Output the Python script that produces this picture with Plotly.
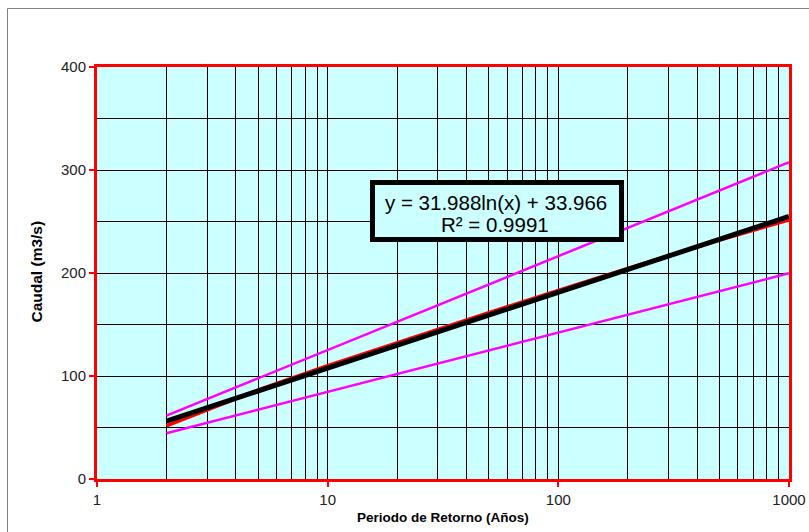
import plotly.graph_objects as go
import numpy as np

# Data
periodos = [2, 5, 10, 25, 50, 100, 200, 500, 1000]
caudal = [51.5, 86.5, 110.0, 139.5, 161.5, 183.0, 204.5, 232.0, 251.5]
limite_sup = [61.5, 97.8, 125.2, 161.5, 188.9, 216.3, 243.7, 280.0, 307.5]
limite_inf = [44.4, 67.3, 84.6, 107.5, 124.8, 142.1, 159.5, 182.4, 199.7]
pendiente = 31.988
intercepto = 33.966
r2 = 0.9991
tendencia = [pendiente * np.log(t) + intercepto for t in periodos]

x_ticks = [1, 10, 100, 1000]
y_ticks = [0, 100, 200, 300, 400]

FONT = "Liberation Sans, Arial, sans-serif"
BG = "#CCFFFF"

# plot area in pixels
L, R, T, B = 97, 789, 67, 479
PW, PH = R - L, B - T


def px(xp):
    return (xp - L) / PW


def py(yp):
    return (B - yp) / PH


fig = go.Figure()
fig.add_trace(go.Scatter(x=periodos, y=limite_sup, mode="lines",
                         line=dict(color="#FF00FF", width=2.5), showlegend=False))
fig.add_trace(go.Scatter(x=periodos, y=limite_inf, mode="lines",
                         line=dict(color="#FF00FF", width=2.5), showlegend=False))
fig.add_trace(go.Scatter(x=periodos, y=caudal, mode="lines",
                         line=dict(color="#FF0000", width=3.5), showlegend=False))
fig.add_trace(go.Scatter(x=periodos, y=tendencia, mode="lines",
                         line=dict(color="#000000", width=5), showlegend=False))

# equation box
fig.add_shape(type="rect", xref="paper", yref="paper",
              x0=px(372.5), x1=px(621.5), y0=py(239.5), y1=py(182.5),
              line=dict(color="black", width=5), fillcolor=BG, layer="above")
fig.add_annotation(x=px(496), y=py(202), xref="paper", yref="paper",
                   text=f"y = {pendiente}ln(x) + {intercepto}", showarrow=False,
                   font=dict(family=FONT, size=20.5, color="black"),
                   xanchor="center", yanchor="middle")
fig.add_annotation(x=px(495), y=py(224.5), xref="paper", yref="paper",
                   text=f"R² = {r2}", showarrow=False,
                   font=dict(family=FONT, size=20.5, color="black"),
                   xanchor="center", yanchor="middle")

# axis titles
fig.add_annotation(x=px(443), y=py(517), xref="paper", yref="paper",
                   text="<b>Periodo de Retorno (Años)</b>", showarrow=False,
                   font=dict(family=FONT, size=13.5, color="black"),
                   xanchor="center", yanchor="middle")
fig.add_annotation(x=px(36), y=py(271.5), xref="paper", yref="paper",
                   text="<b>Caudal (m3/s)</b>", showarrow=False, textangle=-90,
                   font=dict(family=FONT, size=15.5, color="black"),
                   xanchor="center", yanchor="middle")

# outer chart border
fig.add_shape(type="rect", xref="paper", yref="paper",
              x0=px(7.5), x1=1.5, y0=-1, y1=py(8.5),
              line=dict(color="#808080", width=1), layer="below")

fig.update_layout(
    width=809, height=532,
    margin=dict(l=L, r=809 - R, t=T, b=532 - B),
    paper_bgcolor="white", plot_bgcolor=BG,
    font=dict(family=FONT, size=15, color="#222222"),
)
fig.update_xaxes(
    type="log", range=[0, 3], tickvals=x_ticks, ticktext=[str(v) for v in x_ticks],
    automargin=False, showgrid=False, zeroline=False,
    showline=True, linecolor="#FF0000", linewidth=3, mirror=True,
    ticks="outside", ticklen=5, tickcolor="#FF0000", tickwidth=1.5,
    minor=dict(dtick="D1", showgrid=True, gridcolor="#000000", gridwidth=1, ticks=""),
)
fig.update_yaxes(
    range=[0, 400], tickvals=y_ticks, showgrid=True, gridcolor="#000000", gridwidth=1,
    automargin=False, zeroline=False,
    showline=True, linecolor="#FF0000", linewidth=3, mirror=True,
    ticks="outside", ticklen=5, tickcolor="#FF0000", tickwidth=1.5,
    minor=dict(dtick=50, showgrid=True, gridcolor="#000000", gridwidth=1, ticks=""),
)

fig.write_html(
    "out.html",
    config={"displayModeBar": False},
    post_script="document.body.style.margin='0';document.body.style.padding='0';",
)
